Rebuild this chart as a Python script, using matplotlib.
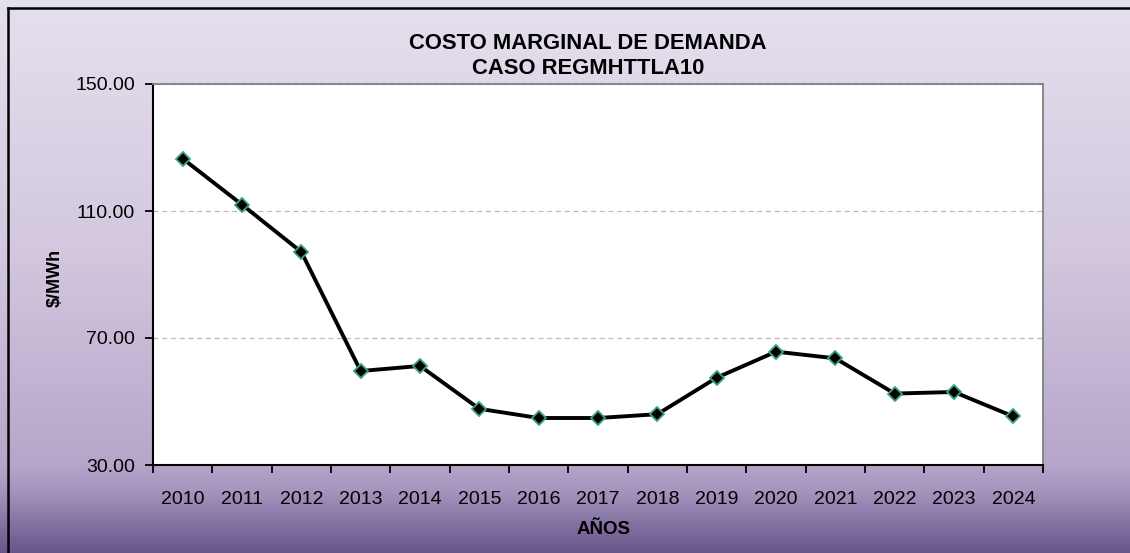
import numpy as np
import matplotlib
matplotlib.use('Agg')
import matplotlib.pyplot as plt
from matplotlib.colors import LinearSegmentedColormap
from matplotlib.lines import Line2D

plt.rcParams['font.family'] = ['Liberation Sans', 'DejaVu Sans']

# data
years = ['2010', '2011', '2012', '2013', '2014', '2015', '2016', '2017',
         '2018', '2019', '2020', '2021', '2022', '2023', '2024']
costo = [126.5, 112.0, 97.1, 59.6, 61.2, 47.7, 44.8, 44.8,
         46.0, 57.5, 65.7, 63.6, 52.5, 53.0, 45.3]
yticks = [30, 70, 110, 150]

title = 'COSTO MARGINAL DE DEMANDA\nCASO REGMHTTLA10'
xlab = 'AÑOS'
ylab = '$/MWh'

fig = plt.figure(figsize=(11.3, 5.53), dpi=100)

# background gradient (light lavender -> dark purple)
bg = fig.add_axes([0, 0, 1, 1], zorder=-10)
cmap = LinearSegmentedColormap.from_list('bg', [
    (0.0, '#e5e0ed'), (0.45, '#d3c8df'), (0.84, '#b6a6ca'),
    (0.89, '#a594bd'), (1.0, '#66568a')])
grad = np.linspace(0, 1, 256).reshape(-1, 1)
bg.imshow(grad, aspect='auto', cmap=cmap, extent=[0, 1, 1, 0])
bg.set_xlim(0, 1)
bg.set_ylim(1, 0)
bg.axis('off')
# outer chart border (only top and left fall inside the picture)
bg.add_line(Line2D([8 / 1130, 1], [8 / 553, 8 / 553], color='black', linewidth=1.8))
bg.add_line(Line2D([8 / 1130, 8 / 1130], [8 / 553, 1], color='black', linewidth=1.8))

ax = fig.add_axes([153 / 1130, 88 / 553, 890 / 1130, 381 / 553])
ax.set_facecolor('white')
x = np.arange(len(years))
ax.plot(x, costo, color='black', linewidth=2.8, marker='D', markersize=7.5,
        markerfacecolor='black', markeredgecolor='#3aa37a',
        markeredgewidth=1.3, zorder=3)

ax.set_xlim(-0.5, len(years) - 0.5)
ax.set_ylim(30, 150)
ax.set_yticks(yticks)
ax.set_yticklabels(['%.2f' % v for v in yticks], fontsize=14)
ax.set_xticks(x)
ax.set_xticklabels(years, fontsize=14)
ax.set_xticks(np.arange(len(years) + 1) - 0.5, minor=True)
ax.tick_params(axis='x', which='major', length=0, pad=19)
ax.tick_params(axis='x', which='minor', length=6, width=1.3, direction='out')
ax.tick_params(axis='y', length=6, width=1.3, direction='out', pad=7)

ax.yaxis.grid(True, linestyle=(0, (4, 3)), color='#bbbbbb', linewidth=0.9)
ax.set_axisbelow(True)
for s in ['top', 'right']:
    ax.spines[s].set_color('#808080')
    ax.spines[s].set_linewidth(1.3)
for s in ['left', 'bottom']:
    ax.spines[s].set_color('black')
    ax.spines[s].set_linewidth(1.5)

fig.text(588 / 1130, 1 - 56 / 553, title, ha='center', va='center',
         fontsize=15.8, fontweight='bold', linespacing=1.3)
fig.text(604 / 1130, 1 - 529 / 553, xlab, ha='center', va='center',
         fontsize=13.5, fontweight='bold')
fig.text(55 / 1130, 1 - 278 / 553, ylab, ha='center', va='center',
         fontsize=13, fontweight='bold', rotation=90)

fig.savefig('out.png', dpi=100)
